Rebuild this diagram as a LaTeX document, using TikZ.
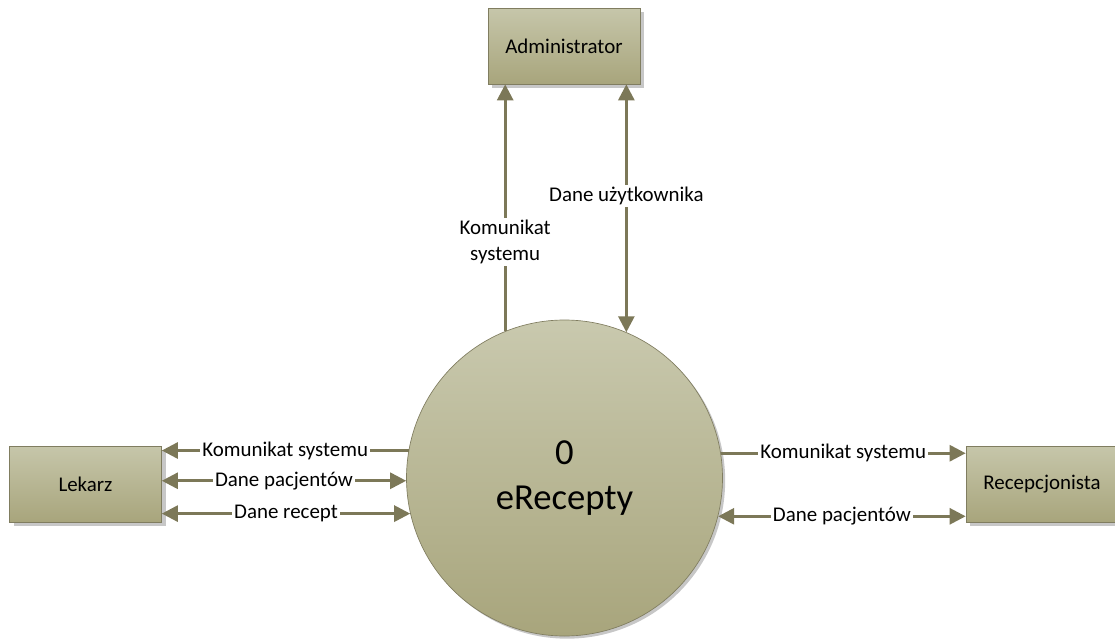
\documentclass[tikz,border=0pt]{standalone}
\usepackage{fontspec}
\setmainfont{Carlito}
\usetikzlibrary{arrows.meta,shadows}
\definecolor{olivetop}{RGB}{198,198,170}
\definecolor{olivebot}{RGB}{168,165,124}
\definecolor{oliveedge}{RGB}{128,125,96}
\definecolor{flowcol}{RGB}{124,120,88}
\tikzset{
  labelfont/.style={font=\fontsize{15.7}{19.5}\selectfont},
  entity/.style={rectangle, draw=oliveedge, line width=0.5pt,
    top color=olivetop, bottom color=olivebot,
    minimum width=114pt, minimum height=57pt, labelfont,
    drop shadow={shadow xshift=3pt, shadow yshift=-3pt, fill=black!22, opacity=1}},
  procnode/.style={circle, draw=oliveedge, line width=0.5pt,
    top color=olivetop!95!white, bottom color=olivebot,
    minimum size=237pt, inner sep=0pt, align=center,
    font=\fontsize{27.5}{34}\selectfont,
    drop shadow={shadow xshift=2pt, shadow yshift=-2pt, fill=black!22, opacity=1}},
  flowlabel/.style={labelfont, fill=white, inner sep=1.5pt, align=center},
  flow/.style={-{Triangle[length=12pt, width=12pt]}, line width=2.1pt, draw=flowcol},
  flowboth/.style={{Triangle[length=12pt, width=12pt]}-{Triangle[length=12pt, width=12pt]},
    line width=2.1pt, draw=flowcol},
}
\begin{document}
\begin{tikzpicture}[x=0.75pt, y=-0.75pt]
  \useasboundingbox (0,0) rectangle (1115,639);
  % external entities and the process
  \node[entity] (adm) at (564,46) {Administrator};
  \node[entity] (lek) at (85.5,484) {Lekarz};
  \node[entity] (rec) at (1042,484) {Recepcjonista};
  \node[procnode] (erc) at (564.5,478) {0\\eRecepty};
  % flows to Administrator
  \draw[flow] (erc.112.1) -- node[flowlabel, pos=0.36] {Komunikat\\systemu} (adm.south -| erc.112.1);
  \draw[flowboth] (adm.south -| erc.67.5) -- node[flowlabel, pos=0.45] {Dane użytkownika} (erc.67.5);
  % flows to Lekarz
  \draw[flow] (erc.170.9) -- node[flowlabel] {Komunikat systemu} (lek.east |- erc.170.9);
  \draw[flowboth] (lek.east |- erc.181.8) -- node[flowlabel] {Dane pacjentów} (erc.181.8);
  \draw[flowboth] (lek.east |- erc.193.5) -- node[flowlabel] {Dane recept} (erc.193.5);
  % flows to Recepcjonista
  \draw[flow] (erc.9.1) -- node[flowlabel] {Komunikat systemu} (rec.west |- erc.9.1);
  \draw[flowboth] (erc.346.5) -- node[flowlabel] {Dane pacjentów} (rec.west |- erc.346.5);
\end{tikzpicture}
\end{document}
